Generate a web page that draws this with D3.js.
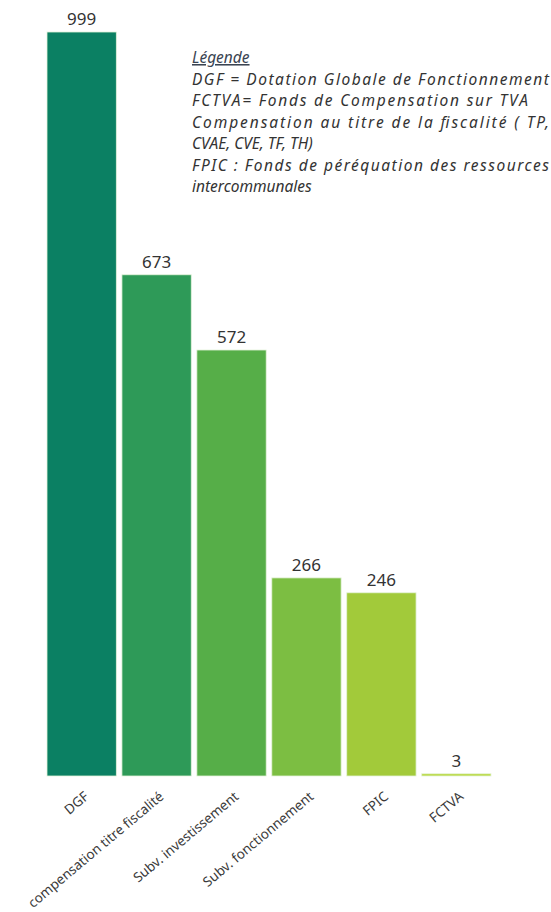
<!DOCTYPE html>
<html>
<head>
<meta charset="utf-8">
<script src="https://cdn.jsdelivr.net/npm/d3@7"></script>
<style>
  body { margin: 0; background: #fff; }
  svg { display: block; font-family: "Noto Sans", sans-serif; }
</style>
</head>
<body>
<div id="chart"></div>
<script>
// Données
var categories = ["DGF", "compensation titre fiscalité", "Subv. investissement",
  "Subv. fonctionnement", "FPIC", "FCTVA"];
var values = [999, 673, 572, 266, 246, 3];
var barColors = ["#0b8063", "#2e9a58", "#56ae48", "#7cbe42", "#a2ca3a", "#b8d83c"];
var legendLines = [
  "DGF = Dotation Globale de Fonctionnement",
  "FCTVA= Fonds de Compensation sur TVA",
  "Compensation au titre de la fiscalité ( TP,",
  "CVAE, CVE, TF, TH)",
  "FPIC : Fonds de péréquation des ressources",
  "intercommunales"
];
// largeur des lignes justifiées (0 = largeur naturelle)
var legendWidths = [357, 336, 357, 0, 357, 0];

var width = 551, height = 912;
var margin = { top: 32, bottom: 136, left: 47, right: 60 };

var svg = d3.select("#chart").append("svg")
  .attr("width", width)
  .attr("height", height);

var x = d3.scaleBand()
  .domain(categories)
  .range([margin.left, width - margin.right])
  .paddingInner(0.075)
  .paddingOuter(0);

var y = d3.scaleLinear()
  .domain([0, 999])
  .range([height - margin.bottom, margin.top]);

// Barres
svg.selectAll(".bar")
  .data(values)
  .enter()
  .append("rect")
  .attr("class", "bar")
  .attr("x", function (d, i) { return x(categories[i]); })
  .attr("y", function (d) { return y(d); })
  .attr("width", x.bandwidth())
  .attr("height", function (d) { return y(0) - y(d); })
  .attr("fill", function (d, i) { return barColors[i]; })
  .attr("stroke", "#e4f2da")
  .attr("stroke-width", 0.8);

// Valeurs au-dessus des barres
svg.selectAll(".value")
  .data(values)
  .enter()
  .append("text")
  .attr("class", "value")
  .attr("x", function (d, i) { return x(categories[i]) + x.bandwidth() / 2; })
  .attr("y", function (d) { return y(d) - 7; })
  .attr("text-anchor", "middle")
  .attr("font-size", 17)
  .attr("fill", "#333")
  .text(function (d) { return d; });

// Axe X (étiquettes inclinées)
var xAxis = svg.append("g")
  .attr("transform", "translate(0," + y(0) + ")")
  .call(d3.axisBottom(x).tickSize(0).tickPadding(0));
xAxis.select(".domain").remove();
xAxis.selectAll("text")
  .attr("font-family", "Noto Sans, sans-serif")
  .attr("font-size", 13.5)
  .attr("fill", "#3a3a3a")
  .attr("text-anchor", "end")
  .attr("y", 0)
  .attr("dy", 0)
  .attr("transform", "translate(8,22) rotate(-40)");

// Légende
var legend = svg.append("g")
  .attr("transform", "translate(192,63)")
  .attr("font-style", "italic")
  .attr("font-size", 15.5)
  .attr("fill", "#333");

legend.append("text")
  .attr("x", 0)
  .attr("y", 0)
  .attr("fill", "#3a4452")
  .attr("text-decoration", "underline")
  .text("Légende");

legend.selectAll(".leg-line")
  .data(legendLines)
  .enter()
  .append("text")
  .attr("class", "leg-line")
  .attr("x", 0)
  .attr("y", function (d, i) { return (i + 1) * 21.5; })
  .each(function (d, i) {
    if (legendWidths[i]) {
      d3.select(this).attr("textLength", legendWidths[i]).attr("lengthAdjust", "spacing");
    }
  })
  .text(function (d) { return d; });
</script>
</body>
</html>
